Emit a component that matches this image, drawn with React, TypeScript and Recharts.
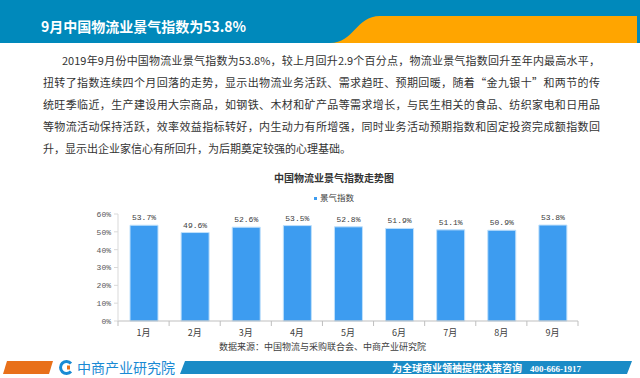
import { BarChart, Bar, XAxis, YAxis, LabelList } from "recharts"

const months = ["1月", "2月", "3月", "4月", "5月", "6月", "7月", "8月", "9月"]
const indexValues = [53.7, 49.6, 52.6, 53.5, 52.8, 51.9, 51.1, 50.9, 53.8]
const yTicks = [0, 10, 20, 30, 40, 50, 60]

const headline = "9月中国物流业景气指数为53.8%"
const chartTitle = "中国物流业景气指数走势图"
const seriesName = "景气指数"
const sourceNote = "数据来源：中国物流与采购联合会、中商产业研究院"
const bodyLines = [
  "2019年9月份中国物流业景气指数为53.8%，较上月回升2.9个百分点，物流业景气指数回升至年内最高水平，",
  "扭转了指数连续四个月回落的走势，显示出物流业务活跃、需求趋旺、预期回暖，随着“金九银十”和两节的传",
  "统旺季临近，生产建设用大宗商品，如钢铁、木材和矿产品等需求增长，与民生相关的食品、纺织家电和日用品",
  "等物流活动保持活跃，效率效益指标转好，内生动力有所增强，同时业务活动预期指数和固定投资完成额指数回",
  "升，显示出企业家信心有所回升，为后期奠定较强的心理基础。",
]

const data = months.map((m, i) => ({ month: m, value: indexValues[i] }))

const CJK = '"Noto Sans CJK SC", "Noto Sans", sans-serif'
const BAR = "#3d9cf0"

const CHART_W = 640
const MARGIN_L = 78
const MARGIN_R = 62
const Y_AXIS_W = 40
const bandW = (CHART_W - MARGIN_L - MARGIN_R - Y_AXIS_W) / months.length

function MonthTick(props: any) {
  const { x, y, payload, index } = props
  return (
    <g>
      <line x1={x - bandW / 2} x2={x - bandW / 2} y1={y} y2={y + 5} stroke="#bfbfbf" />
      {index === months.length - 1 && (
        <line x1={x + bandW / 2} x2={x + bandW / 2} y1={y} y2={y + 5} stroke="#bfbfbf" />
      )}
      <text x={x} y={y + 15} textAnchor="middle" fontSize={9} fill="#404040" fontFamily={CJK}>
        {payload.value}
      </text>
    </g>
  )
}

export default function App() {
  return (
    <div style={{ position: "fixed", left: 0, top: 0, width: 640, height: 378, background: "#fff",
      overflow: "hidden", fontFamily: CJK }}>
      {/* banner */}
      <svg width={640} height={43} style={{ position: "absolute", left: 0, top: 0 }}>
        <rect x={0} y={0} width={640} height={43} fill="#0089bb" />
        <path d="M330,43 C354,43 356,16 380,16 L637,16 L637,43 Z" fill="#ffa500" />
      </svg>
      <div style={{ position: "absolute", left: 41, top: 16, fontSize: 14, fontWeight: 700, color: "#fff",
        lineHeight: "20px", whiteSpace: "nowrap" }}>
        {headline}
      </div>

      {bodyLines.map((line, i) => (
        <div key={i} style={{
          position: "absolute", top: 52 + i * 22, left: i === 0 ? 62 : 43, width: i === 0 ? 538 : 557,
          fontSize: 11, lineHeight: "16px", color: "#333", whiteSpace: "nowrap",
          textAlign: i < bodyLines.length - 1 ? "justify" : "left",
          textAlignLast: i < bodyLines.length - 1 ? "justify" : "left",
        }}>
          {line}
        </div>
      ))}

      <div style={{ position: "absolute", top: 171, left: 234, width: 200, textAlign: "center", fontSize: 10,
        fontWeight: 700, color: "#333", lineHeight: "14px" }}>
        {chartTitle}
      </div>
      <div style={{ position: "absolute", top: 191, left: 234, width: 200, textAlign: "center", fontSize: 8.5,
        color: "#404040", lineHeight: "12px" }}>
        <span style={{ display: "inline-block", width: 3, height: 3, background: BAR, marginRight: 3,
          verticalAlign: "middle" }} />
        {seriesName}
      </div>

      <div style={{ position: "absolute", left: 0, top: 200, width: CHART_W, height: 140 }}>
        <BarChart width={CHART_W} height={140} data={data}
          margin={{ top: 14, right: MARGIN_R, left: MARGIN_L, bottom: 0 }}>
          <XAxis dataKey="month" height={19} tickLine={false} tickSize={0} tickMargin={0}
            axisLine={{ stroke: "#bfbfbf" }} tick={<MonthTick />} interval={0} />
          <YAxis width={Y_AXIS_W} domain={[0, 60]} ticks={yTicks} interval={0}
            tickFormatter={(v) => `${v}%`} tickSize={4} tickMargin={3}
            axisLine={{ stroke: "#d9d9d9" }} tickLine={{ stroke: "#d9d9d9" }}
            tick={{ fontSize: 8, fill: "#595959", fontFamily: '"Liberation Mono", monospace' }} />
          <Bar dataKey="value" fill={BAR} stroke="#bfe0fb" strokeWidth={1} barSize={28}
            isAnimationActive={false}>
            <LabelList dataKey="value" position="top" offset={5}
              formatter={(v: any) => `${Number(v).toFixed(1)}%`}
              style={{ fontSize: 8, fill: "#404040", fontFamily: '"Liberation Mono", monospace' }} />
          </Bar>
        </BarChart>
      </div>

      <div style={{ position: "absolute", top: 340, left: 219, width: 200, textAlign: "center", fontSize: 9,
        color: "#404040", lineHeight: "14px", whiteSpace: "nowrap" }}>
        {sourceNote}
      </div>

      {/* footer */}
      <svg width={640} height={23} style={{ position: "absolute", left: 0, top: 355, zIndex: 5 }}>
        <path d="M7,6 L53,6 L49,19 L3,19 Z" fill="#e8701a" />
        <path d="M71,8.5 A6,6 0 1 0 71,16.5" stroke="#1a8ad4" strokeWidth={3} fill="none" />
        <rect x={67} y={10.5} width={3} height={4} fill="#e8701a" />
        <text x={77} y={18} fontSize={14} fill="#1a8ad4" fontFamily={CJK}>中商产业研究院</text>
        <path d="M185,6 L632,6 L627,19 L180,19 Z" fill="#1a8bc6" />
        <text x={392} y={16.5} fontSize={10} fontWeight={700} fill="#fff" fontFamily={CJK}>为全球商业领袖提供决策咨询</text>
        <text x={530} y={16.5} fontSize={9} fontWeight={700} fill="#fff" fontFamily='"Liberation Serif", serif'>400-666-1917</text>
      </svg>
    </div>
  )
}
